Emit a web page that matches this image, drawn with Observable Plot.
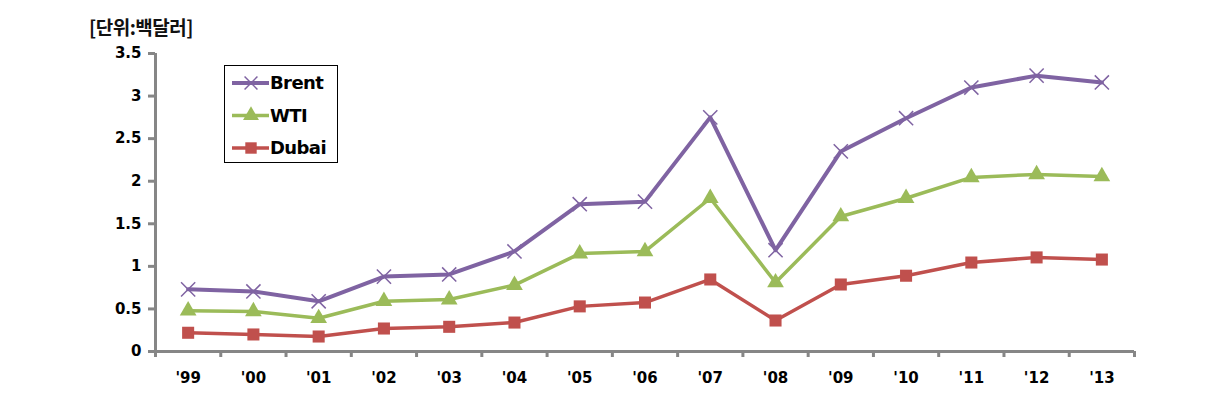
<!DOCTYPE html>
<html>
<head>
<meta charset="utf-8">
<script src="https://cdn.jsdelivr.net/npm/d3@7"></script>
<script src="https://cdn.jsdelivr.net/npm/@observablehq/plot@0.6"></script>
<style>
  body { margin: 0; background: #fff; }
  #wrap { position: relative; width: 1205px; height: 404px; }
  #title { position: absolute; left: 89px; top: 13px; font: bold 19px "Noto Sans CJK KR", sans-serif; color: #111; letter-spacing: -0.5px; }
  #legend { position: absolute; left: 224px; top: 65px; width: 112px; height: 96px; border: 1.5px solid #000; background: #fff; }
  svg text { font-family: "DejaVu Sans", sans-serif; }
</style>
</head>
<body>
<div id="wrap"><div id="title">[단위:백달러]</div></div>
<script>
const years = ["'99","'00","'01","'02","'03","'04","'05","'06","'07","'08","'09","'10","'11","'12","'13"];
const seriesNames = ["Brent", "WTI", "Dubai"];
const brent = [0.73, 0.705, 0.59, 0.88, 0.905, 1.175, 1.73, 1.76, 2.75, 1.19, 2.35, 2.74, 3.10, 3.24, 3.16];
const wti   = [0.48, 0.47, 0.39, 0.59, 0.61, 0.78, 1.15, 1.175, 1.80, 0.81, 1.585, 1.80, 2.045, 2.08, 2.056];
const dubai = [0.22, 0.20, 0.176, 0.27, 0.29, 0.34, 0.53, 0.575, 0.846, 0.364, 0.787, 0.89, 1.045, 1.105, 1.08];
const yTicks = [0, 0.5, 1, 1.5, 2, 2.5, 3, 3.5];

const colors = {Brent: "#7F63A2", WTI: "#9BBB59", Dubai: "#C0504D"};
const symbols = {Brent: "times", WTI: "triangle", Dubai: "square"};
const widths = {Brent: 4, WTI: 3.5, Dubai: 3.5};
const radii = {Brent: 6.5, WTI: 6.2, Dubai: 6.8};
const values = {Brent: brent, WTI: wti, Dubai: dubai};

const idx = years.map((_, i) => i);
const bounds = d3.range(years.length + 1).map(i => i - 0.5);
const data = seriesNames.flatMap(s => values[s].map((v, i) => ({series: s, i, value: v})));

const axisColor = "#868686";
const marks = [];
seriesNames.slice().reverse().forEach(s => {
  const d = data.filter(r => r.series === s);
  marks.push(Plot.line(d, {x: "i", y: "value", stroke: colors[s], strokeWidth: widths[s], strokeLinejoin: "round"}));
  if (s === "Brent") {
    marks.push(Plot.dot(d, {x: "i", y: "value", symbol: "times", r: radii[s], stroke: colors[s], strokeWidth: 1.5}));
  } else {
    marks.push(Plot.dot(d, {x: "i", y: "value", symbol: symbols[s], r: radii[s], fill: colors[s], stroke: "none"}));
  }
});

const chart = Plot.plot({
  width: 1205,
  height: 404,
  marginLeft: 155,
  marginRight: 71,
  marginTop: 53,
  marginBottom: 53,
  style: {fontFamily: "DejaVu Sans, sans-serif", fontWeight: "bold", fontSize: "15px", color: "#000", background: "#fff"},
  x: {type: "linear", domain: [-0.5, years.length - 0.5]},
  y: {domain: [0, 3.5]},
  marks: [
    Plot.axisY({ticks: yTicks, tickSize: 7, tickPadding: 7, tickFormat: d => String(d), stroke: axisColor, strokeWidth: 3, label: null, fontWeight: "bold", fontSize: 15}),
    Plot.axisX({ticks: bounds, tickSize: 6, tickFormat: () => "", stroke: axisColor, strokeWidth: 3, label: null}),
    Plot.axisX({ticks: idx, tickSize: 0, tickPadding: 21, tickFormat: i => years[i], label: null, fontWeight: "bold", fontSize: 15}),
    Plot.ruleX([-0.5], {stroke: axisColor, strokeWidth: 3}),
    Plot.ruleY([0], {stroke: axisColor, strokeWidth: 3}),
    ...marks
  ]
});
const wrap = document.getElementById("wrap");
wrap.insertBefore(chart, wrap.firstChild);

// legend
const leg = document.createElement("div");
leg.id = "legend";
wrap.appendChild(leg);
const ls = d3.select(leg).append("svg").attr("width", 112).attr("height", 96);
seriesNames.forEach((s, k) => {
  const g = ls.append("g").attr("transform", `translate(0,${17 + k * 32.5})`);
  g.append("line").attr("x1", 7).attr("x2", 44).attr("stroke", colors[s]).attr("stroke-width", widths[s]);
  if (s === "Brent") {
    g.append("path").attr("d", d3.symbol(d3.symbolTimes, 110)()).attr("transform", "translate(26,0)").attr("stroke", colors[s]).attr("stroke-width", 1.5).attr("fill", "none");
  } else {
    const sym = s === "WTI" ? d3.symbolTriangle : d3.symbolSquare;
    g.append("path").attr("d", d3.symbol(sym, s === "WTI" ? 110 : 130)()).attr("transform", "translate(26,0)").attr("fill", colors[s]);
  }
  g.append("text").attr("x", 45).attr("y", 6).text(s)
    .attr("font-family", "DejaVu Sans, sans-serif").attr("font-weight", "bold").attr("font-size", 18).attr("letter-spacing", -0.6).attr("fill", "#000");
});
</script>
</body>
</html>
